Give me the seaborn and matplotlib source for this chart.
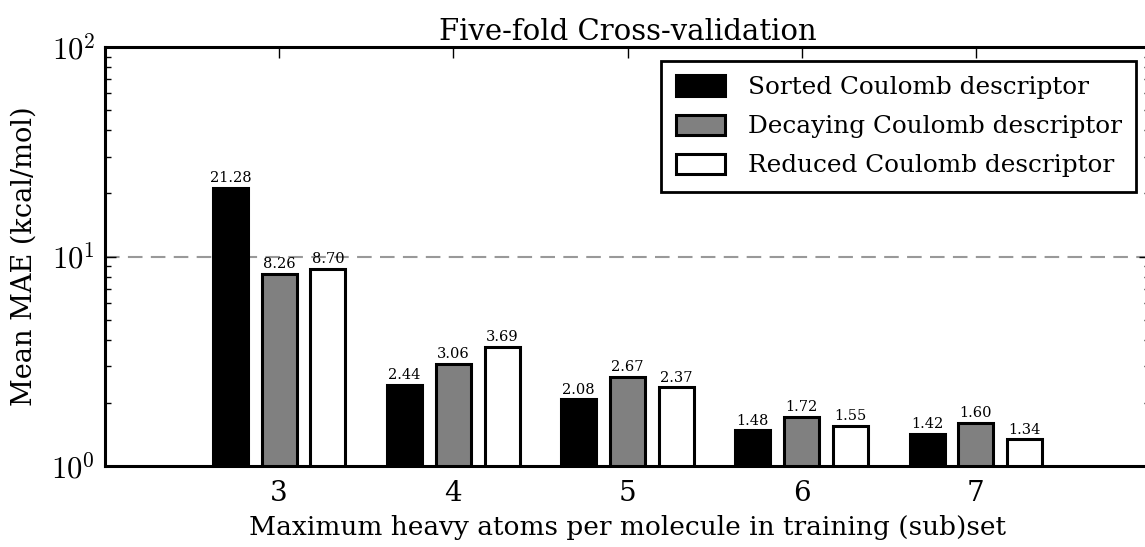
# five-fold CV MAE per descriptor, log-scale grouped bars
import numpy as np
import pandas as pd
import seaborn as sns
import matplotlib
matplotlib.use("Agg")
import matplotlib.pyplot as plt
from matplotlib import ticker

# --- data ---
heavy_atoms = [3, 4, 5, 6, 7]
descriptors = ["Sorted Coulomb descriptor",
               "Decaying Coulomb descriptor",
               "Reduced Coulomb descriptor"]
mae_sorted   = [21.28, 2.44, 2.08, 1.48, 1.42]
mae_decaying = [8.26, 3.06, 2.67, 1.72, 1.60]
mae_reduced  = [8.70, 3.69, 2.37, 1.55, 1.34]
bar_colors   = ["#000000", "#808080", "#ffffff"]

df = pd.DataFrame({
    "atoms":      heavy_atoms * 3,
    "mae":        mae_sorted + mae_decaying + mae_reduced,
    "descriptor": [d for d in descriptors for _ in heavy_atoms],
})

sns.set_style("ticks")
plt.rcParams.update({
    "font.family":        "serif",
    "font.serif":         ["DejaVu Serif"],
    "mathtext.fontset":   "cm",
    "text.color":         "black",
    "axes.labelcolor":    "black",
    "axes.edgecolor":     "black",
    "xtick.color":        "black",
    "ytick.color":        "black",
    "xtick.direction":    "in",
    "ytick.direction":    "in",
    "xtick.top":          True,
    "ytick.right":        True,
    "axes.linewidth":     2.2,
})

fig = plt.figure(figsize=(11.45, 5.47), dpi=100)
W, H = 1145, 547
ax = fig.add_axes([105 / W, (H - 466) / H, (1150 - 105) / W, (466 - 47) / H])

ax.axhline(10, color="#999999", lw=1.5, ls=(0, (7, 4)), zorder=0)

sns.barplot(data=df, x="atoms", y="mae", hue="descriptor",
            hue_order=descriptors, palette=bar_colors, saturation=1,
            width=0.84, gap=0.28, edgecolor="black", linewidth=2.2,
            ax=ax, zorder=2)

ax.set_yscale("log")
ax.set_ylim(1, 100)
ax.set_xlim(-1, 5)

for cont in ax.containers:
    ax.bar_label(cont, fmt="%.2f", padding=2, fontsize=10.5)

ax.yaxis.set_major_formatter(
    ticker.FuncFormatter(lambda v, _: rf"$10^{{{int(round(np.log10(v)))}}}$"))
ax.yaxis.set_minor_formatter(ticker.NullFormatter())
ax.tick_params(which="major", length=8, width=1)
ax.tick_params(axis="y", which="minor", length=4, width=1)
ax.tick_params(axis="x", pad=10, labelsize=20)
ax.tick_params(axis="y", pad=7, labelsize=22)

ax.set_title("Five-fold Cross-validation", fontsize=21, pad=5)
ax.set_xlabel("Maximum heavy atoms per molecule in training (sub)set", fontsize=19, labelpad=6)
ax.set_ylabel("Mean MAE (kcal/mol)", fontsize=19.5, labelpad=10)

handles, labels = ax.get_legend_handles_labels()
leg = ax.legend(handles, labels, loc="upper right", fontsize=17.8,
                frameon=True, fancybox=False, framealpha=1,
                edgecolor="black", borderaxespad=0.55, borderpad=0.6,
                handlelength=2.0, handleheight=0.9, labelspacing=0.62,
                handletextpad=0.9)
leg.get_frame().set_linewidth(2)

fig.savefig("out.png", dpi=100)
